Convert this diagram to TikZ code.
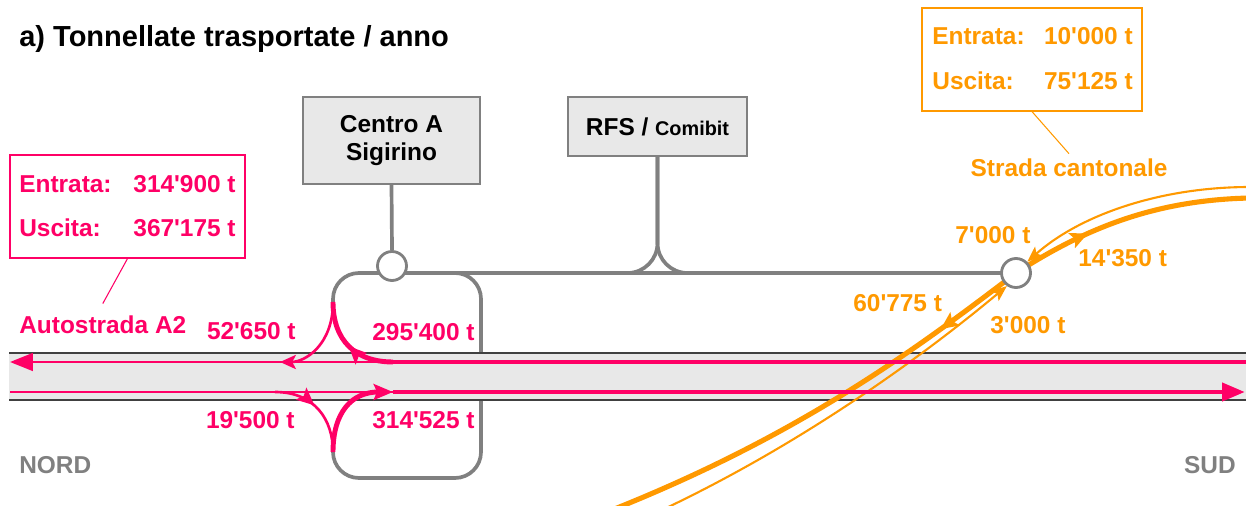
\documentclass[tikz,border=0pt]{standalone}
\usepackage{fontspec}
\setmainfont{Liberation Sans}
\usepackage{xcolor}
\usetikzlibrary{arrows.meta, positioning, decorations.markings, backgrounds}
\definecolor{autopink}{HTML}{FF0066}
\definecolor{strorange}{HTML}{FF9900}
\definecolor{linegray}{HTML}{808080}
\definecolor{boxgray}{HTML}{E8E8E8}
\definecolor{edgegray}{HTML}{404040}
\newcommand{\lblfont}{\fontsize{13.9}{16}\selectfont\bfseries}
\newcommand{\q}{\textquotesingle}

\begin{document}
\begin{tikzpicture}[x=0.02cm, y=-0.02cm, font=\lblfont,
	txt/.style={inner sep=0pt},
	box/.style={draw=linegray, line width=1.4pt, fill=boxgray, inner sep=0pt, align=center},
	hub/.style={circle, draw=linegray, line width=1.6pt, fill=white, minimum size=0.58cm, inner sep=0pt},
	gline/.style={linegray, line width=2.1pt},
	pthin/.style={autopink, line width=1.5pt},
	pthick/.style={autopink, line width=2.8pt},
	othin/.style={strorange, line width=1.2pt},
	othick/.style={strorange, line width=2.9pt},
	midarrow/.style={postaction={decorate}, decoration={markings,
			mark=at position #1 with {\arrow{Stealth[length=10pt, width=9pt, inset=2pt]}}}},
	]
	\useasboundingbox (0,0) rectangle (1246,506);
	% title
	\node[txt, anchor=base west, font=\fontsize{16.5}{19}\selectfont\bfseries] (title) at (19,47)
	{a) Tonnellate trasportate / anno};
	% centres
	\node[box, minimum width=3.54cm, minimum height=1.74cm] (centro) at (391.5,140.5) {Centro A\\Sigirino};
	\node[box, minimum width=3.58cm, minimum height=1.18cm] (rfs) at (657.5,126.5)
	{RFS / {\fontsize{11.3}{13}\selectfont Comibit}};
	\node[hub] (hubA) at (392,266) {};
	\node[hub] (hubB) at (1016,273) {};
	% Autostrada A2 box
	\node[draw=autopink, line width=0.7pt, fill=white, minimum width=4.7cm, minimum height=2.06cm] (pinkbox) at (127.5,206.5) {};
	\node[txt, autopink, anchor=base west] (pinkin) at (19,193) {Entrata:};
	\node[txt, autopink, anchor=base east] (pinkinval) at (236,193) {314\q900 t};
	\node[txt, autopink, anchor=base west] (pinkout) at (19,237) {Uscita:};
	\node[txt, autopink, anchor=base east] (pinkoutval) at (236,237) {367\q175 t};
	\node[autopink, anchor=base west, inner xsep=0pt, inner ysep=6.5pt] (a2) at (19,333) {Autostrada A2};
	% Strada cantonale box
	\node[draw=strorange, line width=0.7pt, fill=white, minimum width=4.4cm, minimum height=2.06cm] (orangebox) at (1032,59.5) {};
	\node[txt, strorange, anchor=base west] (orangein) at (932,45) {Entrata:};
	\node[txt, strorange, anchor=base east] (orangeinval) at (1133,45) {10\q000 t};
	\node[txt, strorange, anchor=base west] (orangeout) at (932,90) {Uscita:};
	\node[txt, strorange, anchor=base east] (orangeoutval) at (1133,90) {75\q125 t};
	\node[strorange, anchor=base, inner xsep=0pt, inner ysep=3pt] (strada) at (1069,177) {Strada cantonale};
	% flows A2
	\node[txt, autopink, anchor=base east] (flowNout) at (296,339) {52\q650 t};
	\node[txt, autopink, anchor=base west] (flowNin) at (372,340) {295\q400 t};
	\node[txt, autopink, anchor=base east] (flowSout) at (295,428) {19\q500 t};
	\node[txt, autopink, anchor=base west] (flowSin) at (372,428) {314\q525 t};
	% flows cantonale
	\node[txt, strorange, anchor=base west] (flowCin) at (955,244) {7\q000 t};
	\node[txt, strorange, anchor=base west] (flowCout) at (1078,267) {14\q350 t};
	\node[txt, strorange, anchor=base west] (flowDout) at (853,311) {60\q775 t};
	\node[txt, strorange, anchor=base west] (flowDin) at (990,333) {3\q000 t};
	% directions
	\node[txt, linegray, anchor=base west] (nord) at (19,473) {NORD};
	\node[txt, linegray, anchor=base east] (sud) at (1236,473) {SUD};
	% leader lines
	\draw[autopink, line width=0.6pt] (pinkbox.south) -- (a2.north);
	\draw[strorange, line width=0.6pt] (orangebox.south) -- (strada.north);
	
	\begin{pgfonlayer}{background}
		\clip (0,0) rectangle (1246,506);
		\coordinate (nordN) at (10,362);
		\coordinate (splitN) at (393,362);
		\coordinate (sudN) at (1250,362);
		\coordinate (nordS) at (10,392);
		\coordinate (splitS) at (393,392);
		\coordinate (sudS) at (1245,392);
		\coordinate (rampN) at (333,302);
		\coordinate (rampS) at (333,452);
		\coordinate (exitN) at (280,362);
		\coordinate (entryS) at (275,392);
		% gray service lines
		\draw[gline, rounded corners=0.52cm] (rampN) |- (hubB.center);
		\draw[gline, rounded corners=0.52cm] (440,273) -| (481,478) -| (rampS);
		\draw[gline] (centro.south) -- (hubA.north);
		\draw[gline, rounded corners=0.6cm] (rfs.south) |- (600,273);
		\draw[gline, rounded corners=0.6cm] (rfs.south) |- (715,273);
		% motorway band
		\fill[boxgray] (9,353) rectangle (1250,400);
		\draw[edgegray, line width=0.6pt] (9,353) -- (1250,353);
		\draw[edgegray, line width=0.6pt] (9,400) -- (1250,400);
		% cantonal road
		\draw[othick, midarrow=0.2] (hubB.center) .. controls (915,350) and (800,435) .. (612,510);
		\draw[othick, midarrow=0.33] (hubB.center) .. controls (1090,225) and (1160,200) .. (1250,198);
		\draw[othin, -{Stealth[length=9pt, width=7pt, inset=2pt]}] (1250,187) .. controls (1160,187) and (1080,215) .. (hubB.45);
		\draw[othin, -{Stealth[length=9pt, width=7pt, inset=2pt]}] (662,510) .. controls (810,440) and (930,350) .. (hubB.235);
		% motorway lanes and ramps
		\draw[pthick] (sudN) -- (splitN);
		\draw[pthin, -{Triangle[length=13pt, width=10pt]}] (splitN) -- (nordN);
		\draw[pthin] (nordS) -- (splitS);
		\draw[pthick, -{Triangle[length=13pt, width=10pt]}] (splitS) -- (sudS);
		\draw[pthick, midarrow=0.5] (splitN) .. controls (355,362) and (333,340) .. (rampN);
		\draw[pthin, -{Stealth[length=9pt, width=8pt, inset=2pt]}] (rampN) .. controls (333,345) and (305,362) .. (exitN);
		\draw[pthin, midarrow=0.45] (entryS) .. controls (315,392) and (333,420) .. (rampS);
		\draw[pthick, -{Stealth[length=11pt, width=9pt, inset=2pt]}] (rampS) .. controls (333,412) and (352,392) .. (splitS);
	\end{pgfonlayer}
\end{tikzpicture}
\end{document}
